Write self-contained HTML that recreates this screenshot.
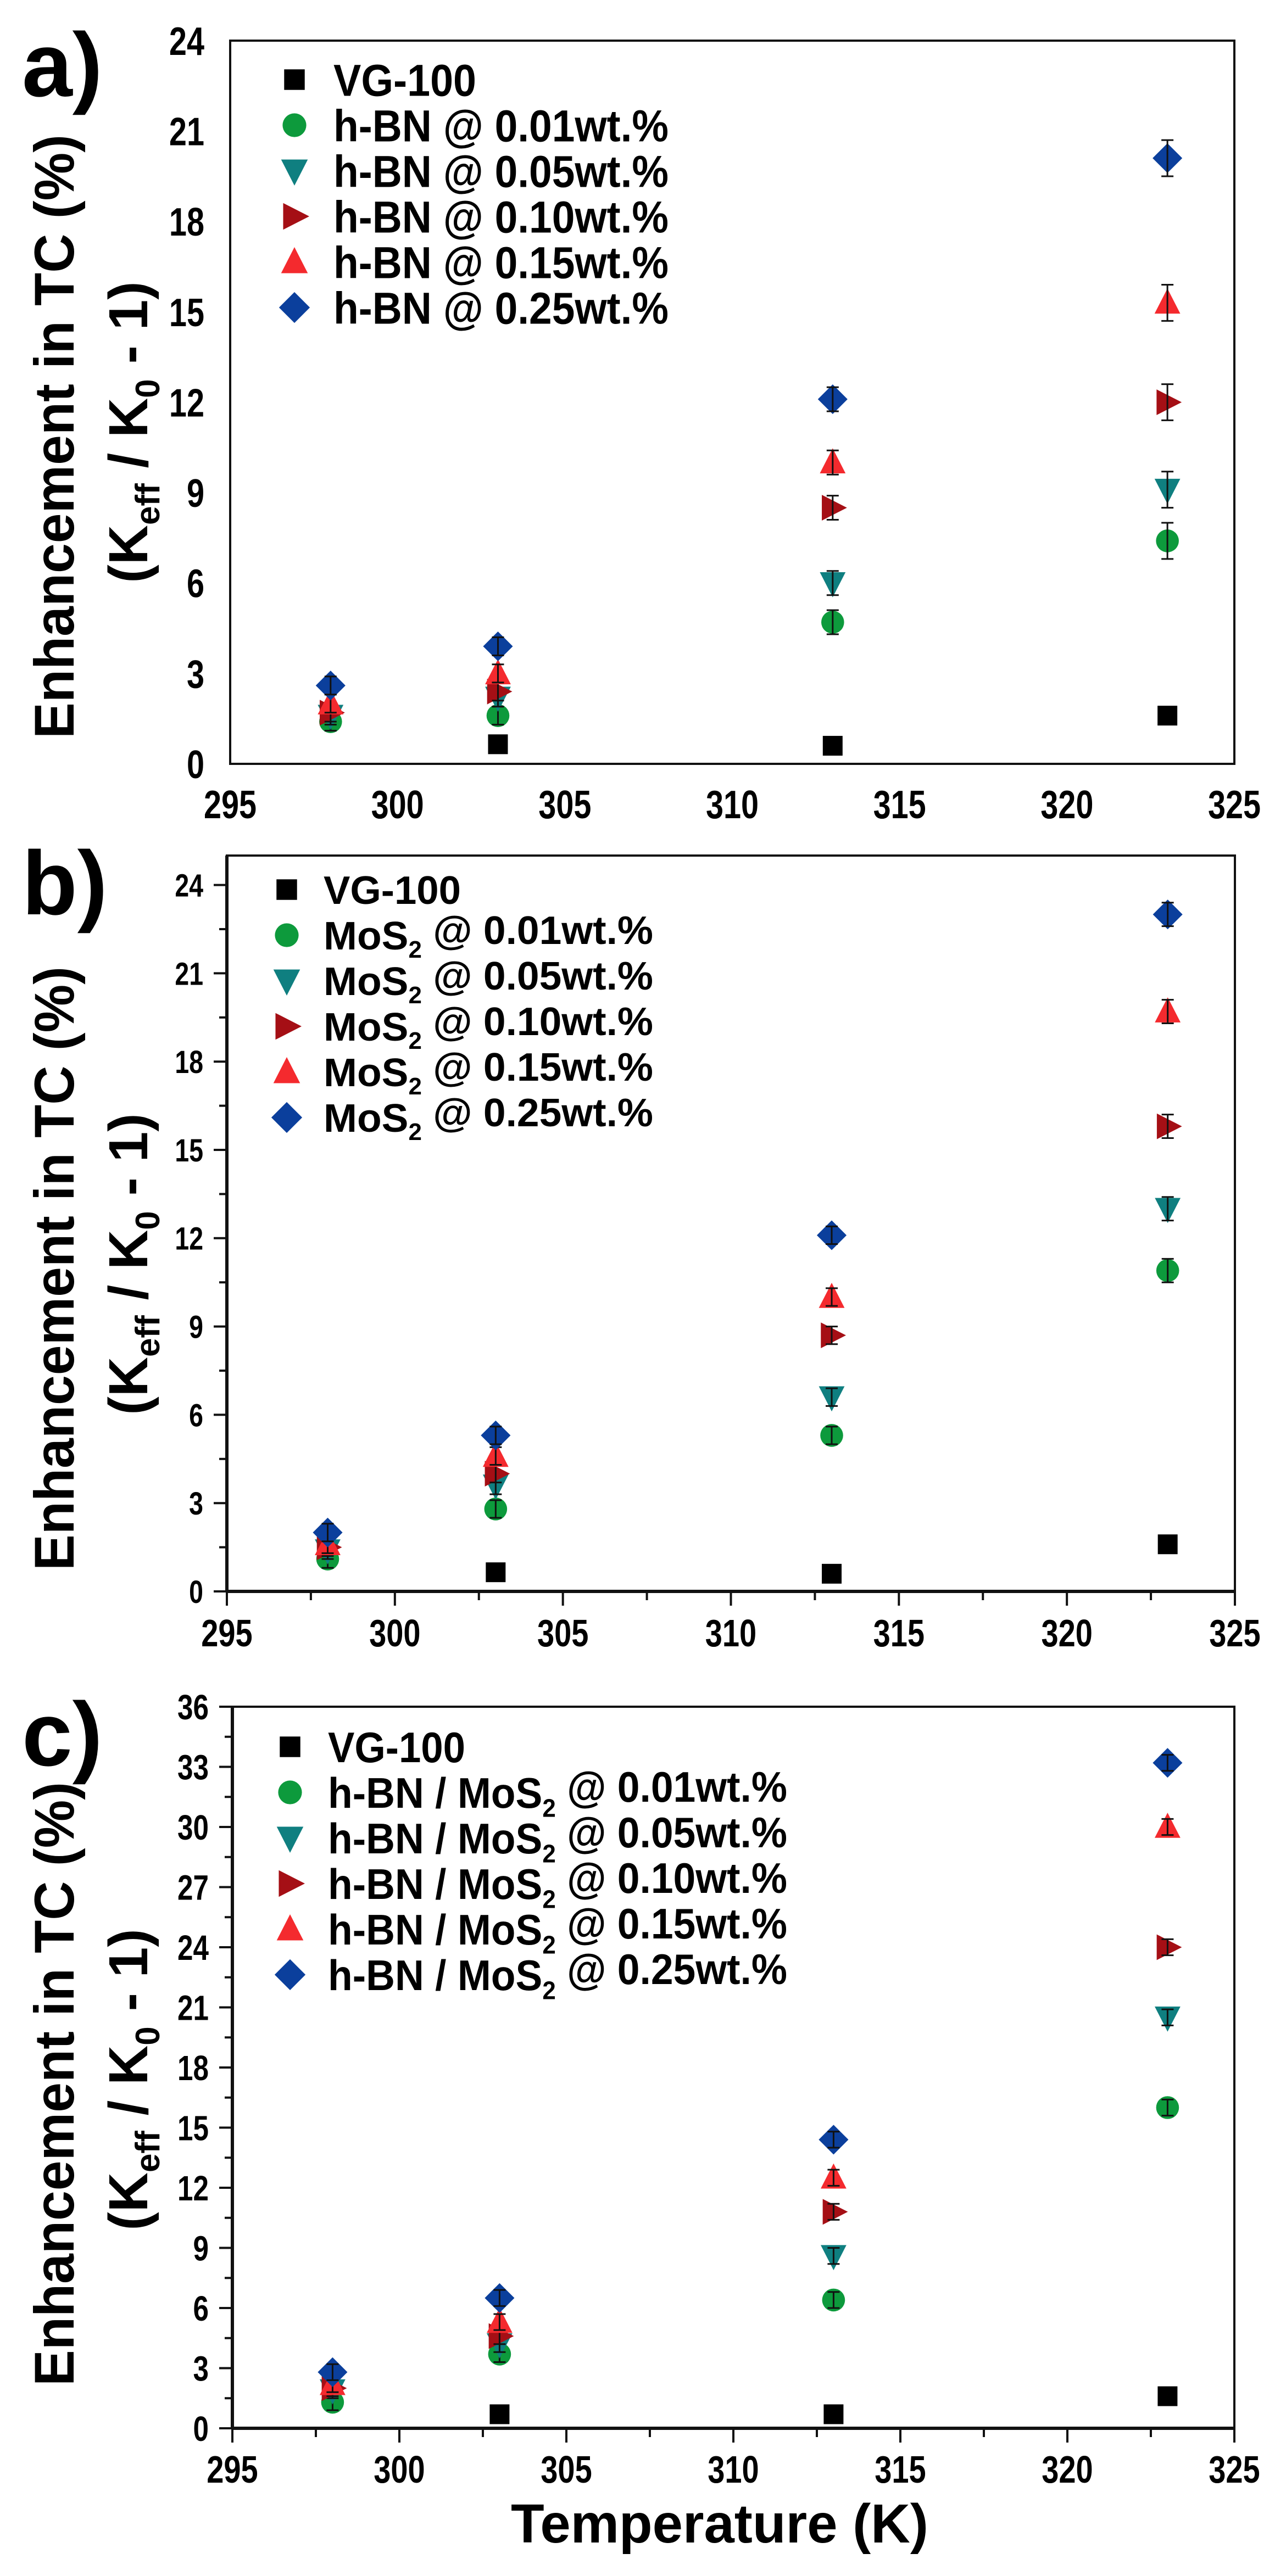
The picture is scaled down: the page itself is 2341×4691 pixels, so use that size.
<!DOCTYPE html>
<html><head><meta charset="utf-8"><style>
html,body{margin:0;padding:0;background:#fff;}
svg{display:block;}
text{font-family:"Liberation Sans",sans-serif;font-weight:bold;fill:#000;}
</style></head><body>
<svg id="fig" width="2341" height="4691" viewBox="0 0 2341 4691" xmlns="http://www.w3.org/2000/svg"></svg>
<script>
// ---------- data ----------
const temps = [298, 303, 313, 323];
const xTicks = [295, 300, 305, 310, 315, 320, 325];
const seriesNames = ["VG-100", "0.01wt.%", "0.05wt.%", "0.10wt.%", "0.15wt.%", "0.25wt.%"];
// Panel a (h-BN)
const aVG  = [null, 0.65, 0.6, 1.6];
const a001 = [1.4, 1.6, 4.7, 7.4];
const a005 = [1.6, 2.2, 6.0, 9.1];
const a010 = [1.7, 2.4, 8.5, 12.0];
const a015 = [2.0, 3.0, 10.0, 15.3];
const a025 = [2.6, 3.9, 12.1, 20.1];
const aErr = [0.3, 0.3, 0.4, 0.6];
const aTicks = [0, 3, 6, 9, 12, 15, 18, 21, 24];
// Panel b (MoS2)
const bVG  = [null, 0.65, 0.6, 1.6];
const b001 = [1.1, 2.8, 5.3, 10.9];
const b005 = [1.4, 3.6, 6.6, 13.0];
const b010 = [1.5, 4.0, 8.7, 15.8];
const b015 = [1.6, 4.6, 10.0, 19.7];
const b025 = [2.0, 5.3, 12.1, 23.0];
const bErr = [0.3, 0.3, 0.3, 0.4];
const bTicks = [0, 3, 6, 9, 12, 15, 18, 21, 24];
// Panel c (h-BN / MoS2)
const cVG  = [null, 0.7, 0.7, 1.6];
const c001 = [1.3, 3.7, 6.4, 16.0];
const c005 = [1.9, 4.2, 8.6, 20.5];
const c010 = [2.0, 4.6, 10.8, 24.0];
const c015 = [2.2, 5.3, 12.5, 30.0];
const c025 = [2.8, 6.5, 14.4, 33.2];
const cErr = [0.4, 0.4, 0.4, 0.4];
const cTicks = [0, 3, 6, 9, 12, 15, 18, 21, 24, 27, 30, 33, 36];

const NS = "http://www.w3.org/2000/svg";
const svg = document.getElementById("fig");
const colors = ["#000000", "#0d9a3c", "#0f7f80", "#a50f15", "#f42a2e", "#0b3f9c"];
const shapes = ["square", "circle", "down", "right", "up", "diamond"];

function el(tag, attrs, parent) {
  const e = document.createElementNS(NS, tag);
  for (const k in attrs) e.setAttribute(k, attrs[k]);
  (parent || svg).appendChild(e);
  return e;
}

function marker(g, shape, cx, cy, s, color) {
  let m;
  if (shape === "square") m = el("rect", {x: cx - s * 0.36, y: cy - s * 0.36, width: s * 0.72, height: s * 0.72, fill: color}, g);
  else if (shape === "circle") m = el("circle", {cx: cx, cy: cy, r: s * 0.4, fill: color}, g);
  else if (shape === "down") m = el("polygon", {points: `${cx - s * 0.45},${cy - s * 0.38} ${cx + s * 0.45},${cy - s * 0.38} ${cx},${cy + s * 0.5}`, fill: color}, g);
  else if (shape === "up") m = el("polygon", {points: `${cx - s * 0.45},${cy + s * 0.38} ${cx + s * 0.45},${cy + s * 0.38} ${cx},${cy - s * 0.5}`, fill: color}, g);
  else if (shape === "right") m = el("polygon", {points: `${cx - s * 0.38},${cy - s * 0.45} ${cx - s * 0.38},${cy + s * 0.45} ${cx + s * 0.5},${cy}`, fill: color}, g);
  else m = el("polygon", {points: `${cx},${cy - s * 0.52} ${cx + s * 0.52},${cy} ${cx},${cy + s * 0.52} ${cx - s * 0.52},${cy}`, fill: color}, g);
  return m;
}

function drawPanel(p) {
  const g = el("g", {});
  
  
  const X = t => p.left + (t - 295) * (p.right - p.left) / 30;
  const Y = v => p.y0 - v * p.unit;

  const fr = el("rect", {x: p.left, y: p.top, width: p.right - p.left, height: p.y0 - p.top, fill: "none", stroke: "#111", "stroke-width": 4}, g);
  
  

  if (p.ticks) {
    const tg = el("g", {stroke: "#111", "stroke-width": 4}, g);
    
    
    el("line", {x1: p.left, y1: p.y0, x2: p.right, y2: p.y0, "stroke-width": 6}, tg);
    el("line", {x1: p.left, y1: p.top, x2: p.left, y2: p.y0, "stroke-width": 6}, tg);
    p.yticks.forEach((v, i) => {
      el("line", {x1: p.left - 24, y1: Y(v), x2: p.left, y2: Y(v)}, tg);
      if (i < p.yticks.length - 1) el("line", {x1: p.left - 14, y1: Y(v + 1.5), x2: p.left, y2: Y(v + 1.5)}, tg);
    });
    xTicks.forEach((t, i) => {
      el("line", {x1: X(t), y1: p.y0, x2: X(t), y2: p.y0 + 26}, tg);
      if (i < xTicks.length - 1) el("line", {x1: X(t + 2.5), y1: p.y0, x2: X(t + 2.5), y2: p.y0 + 16}, tg);
    });
  }

  p.yticks.forEach(v => {
    const t = el("text", {x: p.ylabRight, y: Y(v) + p.yfs * 0.36, "font-size": p.yfs, "text-anchor": "end", transform: `translate(${p.ylabRight},0) scale(0.8,1) translate(${-p.ylabRight},0)`}, g);
    t.textContent = v;
    
    
  });
  xTicks.forEach(tk => {
    const x = X(tk);
    const t = el("text", {x: x, y: p.xlabY, "font-size": p.xfs, "text-anchor": "middle", transform: `translate(${x},0) scale(0.8,1) translate(${-x},0)`}, g);
    t.textContent = tk;
    
    
  });

  const yt = el("text", {x: 0, y: 0, "font-size": 102, "text-anchor": "middle", textLength: 1100, lengthAdjust: "spacingAndGlyphs", transform: `translate(${134},${p.titleC}) rotate(-90)`}, g);
  yt.textContent = "Enhancement in TC (%)";
  
  
  const yt2 = el("text", {x: 0, y: 0, "font-size": 100, "text-anchor": "middle", transform: `translate(${268},${p.titleC - 8}) rotate(-90)`}, g);
  yt2.innerHTML = '(K<tspan font-size="62" dy="22">eff</tspan><tspan dy="-22"> / K</tspan><tspan font-size="62" dy="22">0</tspan><tspan dy="-22"> - 1)</tspan>';
  
  

  const pl = el("text", {x: 40, y: p.labelY, "font-size": 165}, g);
  pl.textContent = p.letter + ")";
  
  

  p.series.forEach((vals, si) => {
    const sg = el("g", {}, g);
    
    
    vals.forEach((v, i) => {
      if (v === null) return;
      const cx = X(temps[i]), cy = Y(v);
      const m = marker(sg, shapes[si], cx, cy, si === 0 ? 50 : 52, colors[si]);
      
      
      if (si > 0) {
        const e = p.err[i] * p.unit;
        const eb = el("path", {d: `M${cx},${cy - e}V${cy + e}M${cx - 11},${cy - e}H${cx + 11}M${cx - 11},${cy + e}H${cx + 11}`, stroke: "#111", "stroke-width": 3, fill: "none"}, sg);
        
        
      }
    });
  });

  const lg = el("g", {}, g);
  
  
  p.legend.forEach((lab, i) => {
    const cy = p.legY + i * 83;
    const m = marker(lg, shapes[i], p.legX, cy, i === 0 ? 52 : 54, colors[i]);
    
    
    const t = el("text", {x: p.textX, y: cy + p.lfs * 0.36, "font-size": p.lfs, textLength: i === 0 ? p.w0 : p.w1, lengthAdjust: "spacingAndGlyphs"}, lg);
    t.innerHTML = lab;
    
    
  });
}

const sub = (n) => `${n}<tspan font-size="0.6em" dy="0.35em">2</tspan><tspan dy="-0.35em"> </tspan>`;

drawPanel({name: "panel-a", letter: "a", left: 419, right: 2247, top: 74, y0: 1391, unit: (1391 - 74) / 24,
  yticks: aTicks, ticks: false, ylabRight: 372, yfs: 72, xlabY: 1490, xfs: 72, titleC: 795, labelY: 175,
  series: [aVG, a001, a005, a010, a015, a025], err: aErr,
  legend: ["VG-100", "h-BN @ 0.01wt.%", "h-BN @ 0.05wt.%", "h-BN @ 0.10wt.%", "h-BN @ 0.15wt.%", "h-BN @ 0.25wt.%"],
  legX: 536, legY: 145, textX: 607, lfs: 82, w0: 260, w1: 610});

drawPanel({name: "panel-b", letter: "b", left: 413, right: 2248, top: 1558, y0: 2898, unit: 53.6,
  yticks: bTicks, ticks: true, ylabRight: 370, yfs: 58, xlabY: 2998, xfs: 70, titleC: 2310, labelY: 1665,
  series: [bVG, b001, b005, b010, b015, b025], err: bErr,
  legend: ["VG-100", sub("MoS") + "@ 0.01wt.%", sub("MoS") + "@ 0.05wt.%", sub("MoS") + "@ 0.10wt.%", sub("MoS") + "@ 0.15wt.%", sub("MoS") + "@ 0.25wt.%"],
  legX: 522, legY: 1620, textX: 589, lfs: 72, w0: 250, w1: 600});

drawPanel({name: "panel-c", letter: "c", left: 423, right: 2247, top: 3108, y0: 4422, unit: (4422 - 3108) / 36,
  yticks: cTicks, ticks: true, ylabRight: 380, yfs: 64, xlabY: 4521, xfs: 70, titleC: 3795, labelY: 3215,
  series: [cVG, c001, c005, c010, c015, c025], err: cErr,
  legend: ["VG-100", "h-BN / " + sub("MoS") + "@ 0.01wt.%", "h-BN / " + sub("MoS") + "@ 0.05wt.%", "h-BN / " + sub("MoS") + "@ 0.10wt.%", "h-BN / " + sub("MoS") + "@ 0.15wt.%", "h-BN / " + sub("MoS") + "@ 0.25wt.%"],
  legX: 528, legY: 3181, textX: 597, lfs: 78, w0: 250, w1: 836});

const xt = el("text", {x: 1310, y: 4630, "font-size": 100, "text-anchor": "middle", textLength: 760, lengthAdjust: "spacingAndGlyphs"});
xt.textContent = "Temperature (K)";


</script>
</body></html>
